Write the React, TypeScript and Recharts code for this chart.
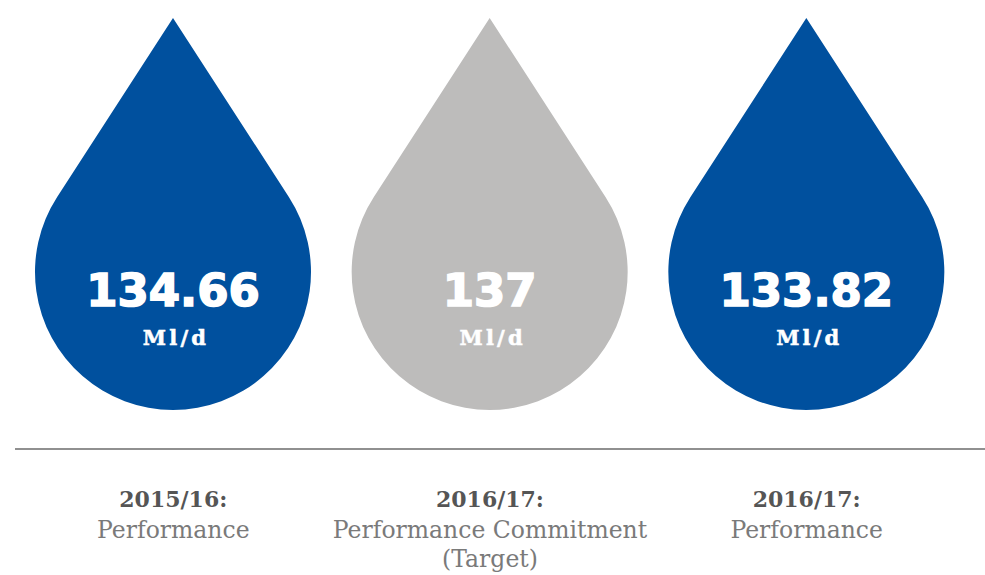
import { BarChart, Bar, XAxis, YAxis } from 'recharts';

// Three water drops: reported leakage (Ml/d) per period.
const periods = ['2015/16:', '2016/17:', '2016/17:'];
const descriptions = [['Performance'], ['Performance Commitment', '(Target)'], ['Performance']];
const values = ['134.66', '137', '133.82'];
const units = ['Ml/d', 'Ml/d', 'Ml/d'];
const dropColors = ['#00509e', '#bdbcbb', '#00509e'];

const data = periods.map((period, i) => ({ period, value: values[i], unit: units[i], drop: 1, color: dropColors[i] }));

function Drop(props: any) {
  const { x, y, width, payload } = props;
  const r = width / 2;
  const cx = x + r;
  const d = r * 1.84;
  const cy = y + d;
  const cos = r / d;
  const sin = Math.sqrt(1 - cos * cos);
  const ty = cy - r * cos;
  const path = `M${cx},${y} L${cx - r * sin},${ty} A${r},${r} 0 1 0 ${cx + r * sin},${ty} Z`;
  return (
    <g>
      <path d={path} fill={payload.color} />
      <text x={cx} y={cy + 34} textAnchor="middle" fill="#fff" stroke="#fff" strokeWidth={1.6} fontFamily="DejaVu Sans" fontWeight="bold" fontSize={45}>
        {payload.value}
      </text>
      <text x={cx + 3} y={cy + 73} textAnchor="middle" fill="#fff" stroke="#fff" strokeWidth={0.5} fontFamily="DejaVu Serif" fontWeight="bold" fontSize={21} letterSpacing={3.2}>
        {payload.unit}
      </text>
    </g>
  );
}

function PeriodTick(props: any) {
  const { x, y, payload } = props;
  const lines = descriptions[payload.index] || [];
  return (
    <g>
      <text x={x} y={y + 52} textAnchor="middle" fill="#555" fontFamily="DejaVu Serif" fontWeight="bold" fontSize={22}>
        {payload.value}
      </text>
      {lines.map((line, i) => (
        <text key={i} x={x} y={y + 83 + i * 29} textAnchor="middle" fill="#7a7a7a" fontFamily="DejaVu Serif" fontSize={23.5}>
          {line}
        </text>
      ))}
    </g>
  );
}

export default function App() {
  return (
    <div style={{ position: 'absolute', left: 0, top: 0, background: '#fff' }}>
      <BarChart width={985} height={575} data={data} margin={{ top: 18, right: 0, left: 15, bottom: 0 }}>
        <XAxis
          dataKey="period"
          axisLine={{ stroke: '#909090', strokeWidth: 2 }}
          tickLine={false}
          tick={<PeriodTick />}
          tickMargin={0}
          height={126}
          interval={0}
          padding={{ left: 0, right: 20 }}
        />
        <YAxis hide domain={[0, 1]} />
        <Bar dataKey="drop" barSize={276} shape={<Drop />} isAnimationActive={false} />
      </BarChart>
    </div>
  );
}
